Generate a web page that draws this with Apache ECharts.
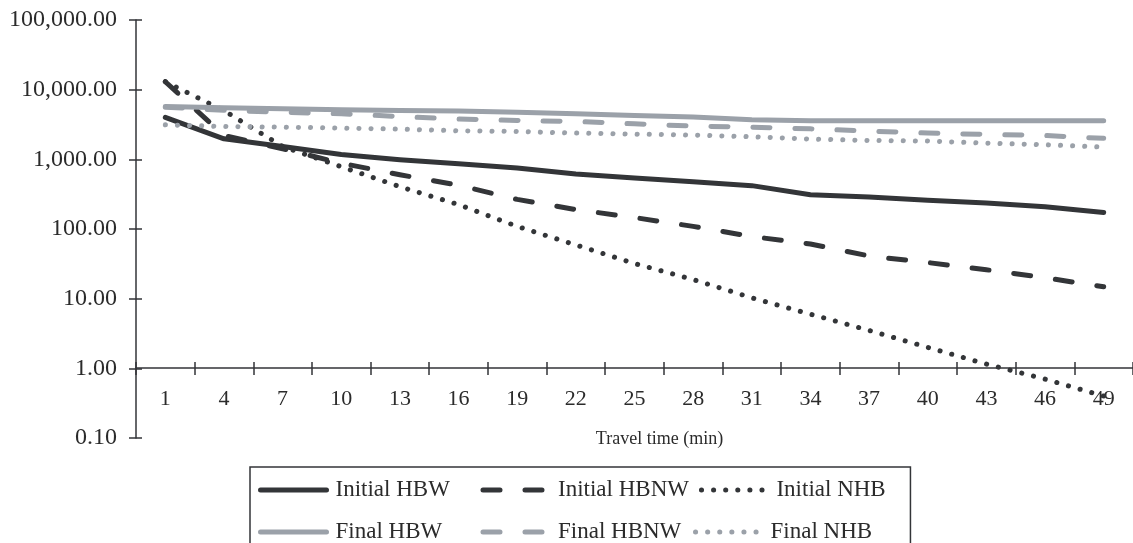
<!DOCTYPE html>
<html>
<head>
<meta charset="utf-8">
<script src="https://cdn.jsdelivr.net/npm/echarts@6/dist/echarts.min.js"></script>
<style>
html,body{margin:0;padding:0;background:#fff;}
#chart{width:1133px;height:543px;}
</style>
</head>
<body>
<div id="chart"></div>
<script>
// ---- data ----
const categories = ['1','4','7','10','13','16','19','22','25','28','31','34','37','40','43','46','49'];
const initialHBW  = [4000, 1970, 1530, 1170, 990, 865, 750, 615, 540, 478, 419, 311, 288, 258, 236, 209, 173];
const initialHBNW = [13000, 2200, 1420, 880, 600, 425, 266, 190, 146, 109, 78, 61, 41, 33, 26, 20, 14.8];
const initialNHB  = [13000, 5000, 1530, 783, 405, 224, 109, 59, 32, 18.8, 10.3, 6.0, 3.5, 2.0, 1.15, 0.70, 0.40];
const finalHBW    = [5730, 5490, 5310, 5130, 5015, 4950, 4760, 4500, 4255, 4040, 3690, 3575, 3575, 3575, 3575, 3575, 3575];
const finalHBNW   = [5600, 5050, 4750, 4500, 4120, 3780, 3610, 3490, 3240, 3000, 2900, 2740, 2540, 2380, 2275, 2200, 2000];
const finalNHB    = [3130, 2960, 2900, 2810, 2710, 2570, 2510, 2380, 2300, 2230, 2110, 1955, 1865, 1830, 1710, 1620, 1500];
const seriesNames = ['Initial HBW','Initial HBNW','Initial NHB','Final HBW','Final HBNW','Final NHB'];
const xAxisTitle = 'Travel time (min)';
const yMin = 0.1, yMax = 100000;

// ---- styles ----
const DARK = '#333538';
const GRAY = '#9ba1a9';
const TEXT = '#2b2b2b';
const FONT = '"Liberation Serif", "Times New Roman", serif';
const LW = 5;
const DASH = [17, 25];
const DOT = [0.1, 12];
const legendTextWidths = [135, 125, 120, 135, 125, 120];

const styles = [
  {color: DARK, type: 'solid'},
  {color: DARK, type: DASH},
  {color: DARK, type: DOT},
  {color: GRAY, type: 'solid'},
  {color: GRAY, type: DASH},
  {color: GRAY, type: DOT}
];
const values = [initialHBW, initialHBNW, initialNHB, finalHBW, finalHBNW, finalNHB];

const fmt = v => Number(v).toLocaleString('en-US', {minimumFractionDigits: 2, maximumFractionDigits: 2});

const series = seriesNames.map((name, i) => ({
  name: name,
  type: 'line',
  data: values[i],
  xAxisIndex: 0,
  yAxisIndex: 0,
  symbol: 'none',
  silent: true,
  lineStyle: {color: styles[i].color, width: LW, type: styles[i].type, cap: 'round', join: 'round'},
  itemStyle: {color: styles[i].color},
  z: 2 + i
}));

const chart = echarts.init(document.getElementById('chart'), null, {renderer: 'canvas'});
const axisLineStyle = {color: DARK, width: 1.5};
chart.setOption({
  animation: false,
  backgroundColor: '#ffffff',
  grid: {left: 136, top: 20, width: 1006, bottom: 105, containLabel: false},
  xAxis: [
    {
      type: 'category', data: categories, position: 'bottom', offset: -70,
      boundaryGap: true,
      axisLine: {show: true, lineStyle: axisLineStyle},
      axisTick: {show: true, inside: false, length: 7, alignWithLabel: false, lineStyle: axisLineStyle},
      axisLabel: {show: true, margin: 20, color: TEXT, fontFamily: FONT, fontSize: 22, interval: 0},
      splitLine: {show: false},
      name: xAxisTitle, nameLocation: 'middle', nameGap: 62,
      nameTextStyle: {fontFamily: FONT, fontSize: 18, color: TEXT, padding: [0, 0, 0, 50]}
    },
    {
      type: 'category', data: categories, position: 'bottom', offset: -70,
      boundaryGap: true,
      axisLine: {show: false},
      axisTick: {show: true, inside: true, length: 6, lineStyle: axisLineStyle},
      axisLabel: {show: false},
      splitLine: {show: false}
    }
  ],
  yAxis: [
    {
      type: 'log', logBase: 10, min: yMin, max: yMax, splitNumber: 6, position: 'left',
      axisLine: {show: true, lineStyle: axisLineStyle},
      axisTick: {show: true, inside: false, length: 7, lineStyle: axisLineStyle},
      axisLabel: {show: true, margin: 19, color: TEXT, fontFamily: FONT, fontSize: 24, formatter: fmt},
      splitLine: {show: false},
      minorTick: {show: false}
    },
    {
      type: 'log', logBase: 10, min: yMin, max: yMax, splitNumber: 6, position: 'left',
      axisLine: {show: false},
      axisTick: {show: true, inside: true, length: 6, lineStyle: axisLineStyle},
      axisLabel: {show: false},
      splitLine: {show: false}
    }
  ],
  legend: {
    show: true,
    left: 250, top: 467,
    width: 660,
    orient: 'horizontal',
    padding: [7, 14, 7, 8],
    borderColor: DARK, borderWidth: 1.5,
    itemWidth: 66, itemHeight: 14, itemGap: 10,
    selectedMode: false,
    textStyle: {fontFamily: FONT, fontSize: 23, color: TEXT, width: 135, lineHeight: 32, overflow: 'none', padding: [0, 0, 0, 4]},
    data: seriesNames.map((n, i) => ({
      name: n,
      itemStyle: {color: 'rgba(0,0,0,0)', borderWidth: 0, opacity: 0},
      lineStyle: {color: styles[i].color, width: LW, type: styles[i].type, cap: 'round', opacity: 1},
      textStyle: {width: legendTextWidths[i]}
    }))
  },
  series: series
});
</script>
</body>
</html>
